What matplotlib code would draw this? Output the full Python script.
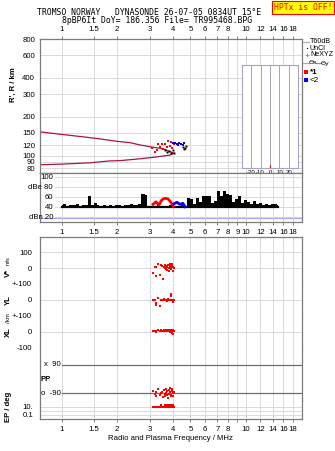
import matplotlib
matplotlib.use('Agg')
import matplotlib.pyplot as plt
import matplotlib.transforms as mtransforms
from matplotlib.ticker import NullLocator

# ---------------- data ----------------
freq_ticks = [1, 1.5, 2, 3, 4, 5, 6, 7, 8, 9, 10, 12, 14, 16, 18]
freq_labels_main = ['1', '1.5', '2', '3', '4', '5', '6', '7', '8', '', '10', '12', '14', '16', '18']
freq_labels_dbe = ['1', '1.5', '2', '3', '4', '5', '6', '7', '8', '9', '10', '12', '14', '16', '18']

height_ticks = [80, 90, 100, 120, 150, 200, 300, 400, 600, 800]

# model traces (virtual height vs frequency)
upper_f = [0.757, 1.0, 1.3, 1.6, 2.0, 2.35, 2.66, 3.14, 3.56, 4.03]
upper_h = [153, 146, 140, 135, 129, 126, 121, 116, 113, 105]
lower_f = [0.757, 1.0, 1.42, 1.82, 2.07, 2.55, 3.14, 3.87, 4.03]
lower_h = [85, 86, 88, 91, 91.5, 94, 97, 101, 104]

# echoes in height panel
red_f = [3.09, 3.21, 3.29, 3.41, 3.50, 3.54, 3.64, 3.73, 3.87, 3.92, 3.97, 3.78, 3.33, 4.07]
red_h = [114, 107, 111, 117, 122, 113, 124, 116, 119.5, 127, 115, 129, 124, 124]
blue_f = [4.02, 4.12, 4.22, 4.33, 4.44, 4.55, 4.61, 4.27]
blue_h = [125, 126, 124, 126, 123, 121, 125, 121]
black_f = [3.64, 3.73, 3.82, 3.92, 4.02, 4.07, 4.55, 4.67, 4.73, 4.61]
black_h = [111, 107, 109, 105.5, 110, 104.5, 117, 114, 118.5, 112]

# amplitude panel
amp_f = [1.00, 1.04, 1.08, 1.12, 1.17, 1.21, 1.26, 1.31, 1.35, 1.41, 1.46, 1.52, 1.57, 1.63,
         1.70, 1.76, 1.83, 1.90, 1.97, 2.05, 2.12, 2.21, 2.29, 2.38, 2.47, 2.56, 2.66, 2.73,
         2.80, 2.87, 2.94, 3.01, 3.13, 3.25, 3.37, 3.50, 3.63, 3.77, 3.92, 4.07, 4.22, 4.38,
         4.55, 4.72, 4.90, 5.09, 5.28, 5.48, 5.69, 5.91, 6.13, 6.37, 6.61, 6.86, 7.12, 7.39,
         7.67, 7.96, 8.27, 8.58, 8.91, 9.25, 9.60, 9.96, 10.3, 10.7, 11.1, 11.6, 12.0, 12.5,
         12.9, 13.4, 13.9, 14.5, 15.0]
amp_db = [44, 46, 43, 45, 44, 46, 43, 45, 44, 63, 44, 49, 44, 43,
          45, 42, 44, 43, 45, 44, 43, 45, 44, 46, 44, 45, 47, 66,
          67, 64, 43, 42, 43, 42, 48, 42, 43, 42, 44, 42, 43, 42,
          44, 42, 58, 56, 47, 58, 50, 62, 62, 62, 48, 52, 72, 62,
          72, 66, 64, 50, 56, 62, 48, 55, 50, 47, 52, 46, 48, 45,
          47, 44, 46, 47, 44]
red_amp_f = [3.13, 3.25, 3.37, 3.50, 3.63, 3.77, 3.92, 4.03]
red_amp_db = [46, 51, 45, 55, 58, 57, 50, 42]
blue_amp_f = [4.07, 4.22, 4.38, 4.55, 4.67]
blue_amp_db = [47, 50, 46, 48, 41]
noise_db = 19
dbe_ticks = [100, 80, 60, 40, 20]
dbe_labels = ['100', 'dBe 80', '60', '40', 'dBn 20']

# echo parameters (bottom panel)
echo_f = [3.14, 3.20, 3.27, 3.25, 3.33, 3.41, 3.45, 3.50, 3.55, 3.58, 3.62, 3.65, 3.68, 3.70,
          3.73, 3.75, 3.78, 3.80, 3.83, 3.85, 3.88, 3.90, 3.92, 3.95, 3.97, 4.00, 4.02, 4.05]
vstar = [-31, 5, 10, -52, 25, -42, 18, 12, -69, 8, 20, 2, 15, -5,
         10, -12, 22, 0, -20, 14, 30, -8, 5, 18, 28, -15, 10, 2]
yl = [3, 2, -17, -29, 14, -37, 2, -3, 1, 4, -2, 0, 3, -1,
      2, -4, 5, 0, -3, 2, 1, 37, 22, -2, 3, 0, -10, 2]
xl = [6, 4, 8, 2, 10, 5, 9, 7, 4, 12, 6, 8, 10, 3,
      7, 9, 5, 11, 8, 6, 2, 10, 7, -8, 4, 9, -15, 6]
pp = [-75, -95, -110, -85, -65, -100, -90, -80, -115, -70, -95, -105, -60, -88,
      -100, -78, -120, -92, -70, -85, -58, -98, -110, -75, -62, -90, -105, -80]
ep = [8, 9, 10, 7, 8, 9, 28, 8, 7, 10, 30, 9, 8, 7,
      25, 9, 8, 7, 30, 9, 8, 10, 26, 8, 7, 9, 28, 8]

tilt_ticks = [-20, -10, 0, 10, 20]
tilt_mean = [0]

# ---------------- style ----------------
W, H = 335, 451
GRID = '#dadada'
FRAME = '#7c7c7c'
DARK = '#6e6e6e'
TRACE = '#a8173f'
FS = 5.6
plt.rcParams['font.family'] = ['Liberation Sans', 'DejaVu Sans']
plt.rcParams['font.size'] = FS

fig = plt.figure(figsize=(W / 100, H / 100), dpi=100)


def rect(top, bottom, left=39.5, right=301.7):
    return [left / W, 1 - bottom / H, (right - left) / W, (bottom - top) / H]


def freq_axis(ax):
    ax.set_xscale('log')
    ax.set_xlim(0.757, 20.1)
    ax.xaxis.set_minor_locator(NullLocator())
    ax.set_xticks(freq_ticks)
    for s in ax.spines.values():
        s.set_color(FRAME)
        s.set_linewidth(0.9)
    ax.tick_params(axis='x', length=2.2, width=0.7, color=FRAME, pad=2.2, labelsize=FS)
    ax.tick_params(axis='y', length=0, labelsize=FS)
    for f in freq_ticks:
        ax.axvline(f, color=GRID, lw=0.7, zorder=0)


# ---------- height panel ----------
axh = fig.add_axes(rect(39, 173.3))
freq_axis(axh)
axh.set_yscale('log')
axh.set_ylim(73, 800)
axh.yaxis.set_minor_locator(NullLocator())
axh.set_yticks(height_ticks)
axh.set_yticklabels([str(v) for v in height_ticks])
axh.tick_params(axis='y', pad=3.2)
axh.xaxis.tick_top()
axh.set_xticklabels(freq_labels_main)
for v in height_ticks:
    axh.axhline(v, color=GRID, lw=0.7, zorder=0)
axh.plot(upper_f, upper_h, color=TRACE, lw=0.9)
axh.plot(lower_f, lower_h, color=TRACE, lw=0.9)
axh.plot(red_f, red_h, 's', color='#ff0000', ms=1.6, mew=0)
axh.plot(blue_f, blue_h, 's', color='#0000ff', ms=1.6, mew=0)
axh.plot(black_f, black_h, 's', color='black', ms=1.4, mew=0)
fig.text(13 / W, 1 - 85 / H, "R', R / km", rotation=90, ha='center', va='center',
         fontsize=FS, fontweight='bold')

# ---------- tilt inset ----------
axt = fig.add_axes(rect(65, 168.3, 241.7, 298.3))
axt.set_xlim(-30, 30)
axt.set_ylim(0, 1)
axt.set_yticks([])
axt.set_xticks(tilt_ticks)
axt.set_xticklabels([str(v) for v in tilt_ticks])
axt.tick_params(axis='x', length=0, pad=1.0, labelsize=4.3)
for s in axt.spines.values():
    s.set_color('#a4a4c4')
    s.set_linewidth(0.8)
for t in tilt_ticks:
    axt.axvline(t, color='#a4a4c4', lw=0.7)
axt.plot(tilt_mean, [0.015], '|', color='red', ms=3, mew=0.9)
axt.set_xlabel('Tilt / deg', fontsize=4.3, labelpad=0.2)

# ---------- dBe panel ----------
axd = fig.add_axes(rect(173.3, 221.7))
freq_axis(axd)
axd.set_ylim(11.2, 108)
axd.set_yticks([])
axd.set_xticklabels(freq_labels_dbe)
axd.tick_params(axis='x', pad=3.0)
bt = mtransforms.blended_transform_factory(axd.transAxes, axd.transData)
for v, lab in zip(dbe_ticks, dbe_labels):
    axd.axhline(v, xmin=0.06, color=GRID, lw=0.7, zorder=0)
    axd.text(0.0515, v, lab, transform=bt, ha='right', va='center', fontsize=FS)
axd.axhline(noise_db, color='#aaaaee', lw=0.9, zorder=1)
axd.fill_between(amp_f, 40, amp_db, step='mid', color='black', lw=0, zorder=2)
axd.plot([amp_f[0], amp_f[-1]], [41.5, 41.5], color='black', lw=1.6, zorder=2)
axd.plot(red_amp_f, red_amp_db, color='#ff0000', lw=2.0, zorder=3)
axd.plot(blue_amp_f, blue_amp_db, color='#0000ff', lw=2.0, zorder=3)

# ---------- bottom panel strips ----------
strips = [
    (236.7, 284.0), (284.0, 316.0), (316.0, 347.7), (347.7, 400.0), (400.0, 419.3)
]
axes_b = []
for i, (t, b) in enumerate(strips):
    a = fig.add_axes(rect(t, b))
    freq_axis(a)
    if i > 0:
        a.spines['top'].set_visible(False)
    if i < len(strips) - 1:
        a.spines['bottom'].set_visible(False)
        a.tick_params(axis='x', length=0, labelbottom=False)
    else:
        a.set_xticklabels(freq_labels_main)
        a.tick_params(axis='x', pad=2.5)
    axes_b.append(a)

av, ay, ax_, ap, ae = axes_b
echo_kw = dict(marker='s', color='#ff0000', ms=1.7, mew=0, ls='none')

av.set_ylim(-100, 200)
av.set_yticks([100, 0, -100])
av.set_yticklabels(['100', '0', '+-100'])
av.tick_params(axis='y', pad=5.5)
for v in [100, 0, -100]:
    av.axhline(v, color=GRID, lw=0.7, zorder=0)
av.plot(echo_f, vstar, **echo_kw)

ay.set_ylim(-100, 100)
ay.set_yticks([0, -100])
ay.set_yticklabels(['0', '+-100'])
ay.tick_params(axis='y', pad=5.5)
for v in [0, -100]:
    ay.axhline(v, color=GRID, lw=0.7, zorder=0)
ay.plot(echo_f, yl, **echo_kw)

ax_.set_ylim(-100, 100)
ax_.set_yticks([0, -100])
ax_.set_yticklabels(['0', '-100'])
ax_.tick_params(axis='y', pad=5.5)
for v in [0, -100]:
    ax_.axhline(v, color=GRID, lw=0.7, zorder=0)
ax_.plot(echo_f, xl, **echo_kw)

ap.set_ylim(-133, 200)
ap.set_yticks([])
bp = mtransforms.blended_transform_factory(ap.transAxes, ap.transData)
for v, lab in [(90, 'x  90'), (-90, 'o  -90')]:
    ap.axhline(v, xmin=0.085, color=DARK, lw=0.9, zorder=1)
    ap.text(0.082, v, lab, transform=bp, ha='right', va='center', fontsize=FS)
ap.plot(echo_f, pp, **echo_kw)

ae.set_yscale('log')
ae.set_ylim(0.0092, 411)
ae.yaxis.set_minor_locator(NullLocator())
ae.set_yticks([10, 0.1])
ae.set_yticklabels(['10.', '0.1'])
ae.tick_params(axis='y', pad=4.5)
for v in [10, 1, 0.1]:
    ae.axhline(v, color=GRID, lw=0.7, zorder=0)
ae.plot(echo_f, ep, **echo_kw)

fig.text(8 / W, 1 - 273 / H, 'V*', rotation=90, ha='center', va='center', fontsize=FS, fontweight='bold')
fig.text(8 / W, 1 - 261 / H, 'm/s', rotation=90, ha='center', va='center', fontsize=4.0)
fig.text(8 / W, 1 - 300 / H, 'YL', rotation=90, ha='center', va='center', fontsize=FS, fontweight='bold')
fig.text(8 / W, 1 - 318 / H, '/km', rotation=90, ha='center', va='center', fontsize=4.4)
fig.text(8 / W, 1 - 332 / H, 'XL', rotation=90, ha='center', va='center', fontsize=FS, fontweight='bold')
fig.text(46 / W, 1 - 379.5 / H, 'PP', ha='center', va='center', fontsize=FS, fontweight='bold')
fig.text(8 / W, 1 - 407 / H, 'EP / deg', rotation=90, ha='center', va='center', fontsize=FS, fontweight='bold')
fig.text(170.5 / W, 1 - 439 / H, 'Radio and Plasma Frequency / MHz', ha='center', va='center', fontsize=FS)

# ---------- titles ----------
MONO = 'DejaVu Sans Mono'
fig.text(149.2 / W, 1 - 12.3 / H, 'TROMSO NORWAY   DYNASONDE 26-07-05 0834UT 15\u00b0E',
         ha='center', va='center', family=MONO, fontsize=5.9)
fig.text(157 / W, 1 - 20.7 / H, '8pBP6It DoY= 186.356 File= TR995468.BPG',
         ha='center', va='center', family=MONO, fontsize=5.9)
fig.text(303 / W, 1 - 7.3 / H, 'HPTx is OFF!', ha='center', va='center', family=MONO,
         fontsize=5.9, color='#ff0000',
         bbox=dict(boxstyle='square,pad=0.25', facecolor='#ffff00', edgecolor='#ff0000', lw=0.8))

# ---------- legend ----------
LX = 310 / W
LFS = 5.1


def ly(y):
    return 1 - y / H


fig.add_artist(plt.Line2D([303 / W, 308.5 / W], [ly(41.5), ly(41.5)], color='#b0b0b0', lw=0.9))
fig.text(LX, ly(41.5), 'T60dB', va='center', fontsize=LFS)
fig.add_artist(plt.Line2D([306.5 / W], [ly(48)], marker='s', color='black', ms=0.8, mew=0))
fig.text(LX, ly(48), 'UnCl', va='center', fontsize=LFS)
fig.add_artist(plt.Line2D([306.5 / W], [ly(54.5)], marker='+', color='#ff6680', ms=3.5, mew=0.7))
fig.text(LX, ly(54.5), 'NeXYZ', va='center', fontsize=LFS)
fig.add_artist(plt.Line2D([303 / W, 308.5 / W], [ly(63), ly(63)], color='#ff8899', lw=0.9))
fig.text(308.8 / W, ly(63), '\u0398x', va='center', fontsize=4.6, family='DejaVu Sans')
fig.add_artist(plt.Line2D([316 / W, 320.5 / W], [ly(63), ly(63)], color='#8888ff', lw=0.9))
fig.text(320.8 / W, ly(63), '\u0398y', va='center', fontsize=4.6, family='DejaVu Sans')
fig.add_artist(plt.Line2D([306 / W], [ly(72.3)], marker='s', color='#ff0000', ms=2.2, mew=0))
fig.text(LX, ly(72.3), '*1', va='center', fontsize=LFS + 0.8, fontweight='bold')
fig.add_artist(plt.Line2D([306 / W], [ly(80)], marker='s', color='#0000ff', ms=2.2, mew=0))
fig.text(LX, ly(80), '<2', va='center', fontsize=LFS + 0.8)

fig.savefig('out.png', dpi=100)
